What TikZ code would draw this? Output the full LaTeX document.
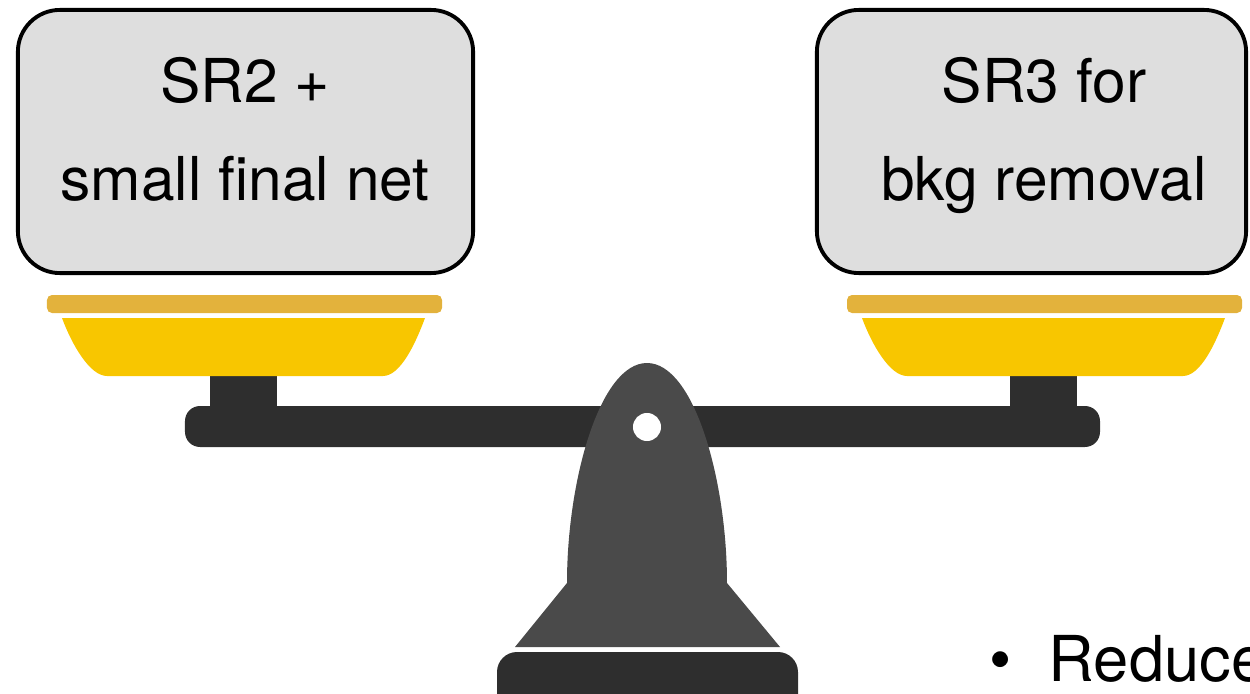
\documentclass[tikz,border=0pt]{standalone}
\usepackage{fontspec}
\setmainfont{TeX Gyre Heros}
\usetikzlibrary{positioning}

\definecolor{boxgray}{HTML}{DEDEDE}
\definecolor{rimgold}{HTML}{E3B23C}
\definecolor{panyellow}{HTML}{F8C600}
\definecolor{beamdark}{HTML}{2E2E2E}
\definecolor{standgray}{HTML}{4A4A4A}

\begin{document}
\begin{tikzpicture}[x=0.01cm,y=-0.01cm,
		weight/.style={draw=black,line width=1.1pt,fill=boxgray,rounded corners=0.42cm,inner sep=0pt,minimum height=2.63cm},
		weightlabel/.style={align=center,inner sep=0pt,font=\fontsize{17.2}{27.6}\selectfont},
		bar/.style={fill=beamdark}]
		\useasboundingbox (0,0) rectangle (1250,694);
		\clip (0,0) rectangle (1250,694);
		% the two weights
		\node[weight,minimum width=4.55cm] (left box) at (245.5,141.5) {};
		\node[weight,minimum width=4.29cm] (right box) at (1031.5,141.5) {};
		\node[weightlabel,anchor=base] (left text) at (245,200) {SR2 +\\small final net};
		\node[weightlabel,anchor=base] (right text) at (1044,200) {SR3 for\\bkg removal};
		% beam and the two pans
		\fill[bar,rounded corners=0.15cm] (185,406) rectangle (1100,447);
		\foreach \dx in {0,800} {
			\begin{scope}[shift={(\dx,0)}]
				\fill[bar] (210,370) rectangle (277,410);
				\fill[panyellow] (62,318) -- (425,318) .. controls (415,345) and (400,376) .. (383,376)
					-- (107,376) .. controls (90,376) and (72,345) .. (62,318) -- cycle;
				\fill[rimgold,rounded corners=0.05cm] (47,295) rectangle (442,313);
			\end{scope}
		}
		% stand with pivot hole
		\fill[standgray] (567,583) .. controls (567,480) and (600,363) .. (647,363)
			.. controls (694,363) and (727,480) .. (727,583) -- (780,647) -- (515,647) -- cycle;
		\fill[white] (647,427) circle[radius=0.14cm];
		\fill[bar,rounded corners=0.2cm] (497,652) rectangle (798,720);
		\node[anchor=base west,inner sep=0pt,font=\fontsize{18}{22}\selectfont] (reduce) at (989,682) {\textbullet\hspace{0.37cm}Reduce};
	\end{tikzpicture}
\end{document}
